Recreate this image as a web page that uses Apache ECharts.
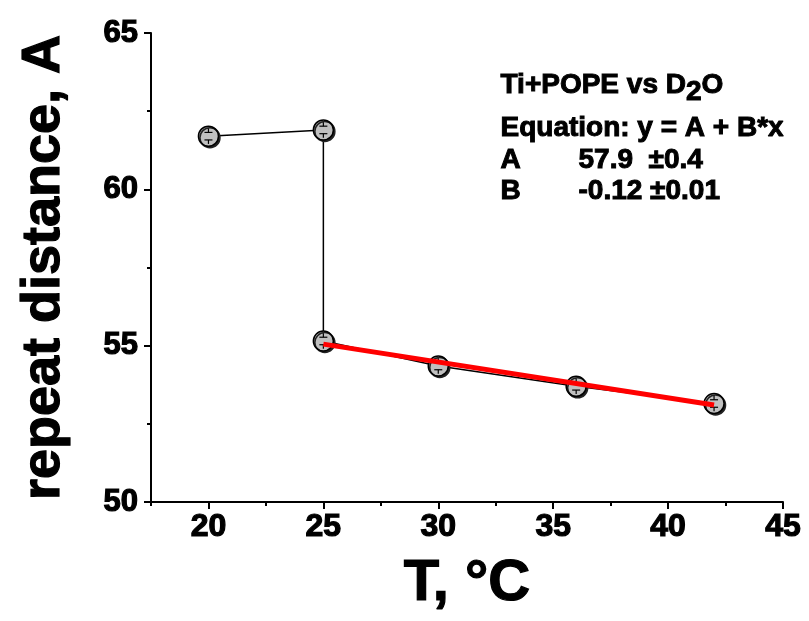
<!DOCTYPE html>
<html>
<head>
<meta charset="utf-8">
<script src="https://cdn.jsdelivr.net/npm/echarts@6/dist/echarts.min.js"></script>
<style>
  html, body { margin: 0; padding: 0; background: #fff; }
  #chart { width: 809px; height: 621px; }
</style>
</head>
<body>
<div id="chart"></div>
<script>
// measured points
const temps = [20, 25, 25, 30, 36, 42];
const distance = [61.7, 61.9, 55.15, 54.35, 53.7, 53.15];
const errors = [0.12, 0.12, 0.12, 0.12, 0.12, 0.12];

// linear fit y = A + B*x, drawn over 25..42
const fitX = [25, 42];
const fitY = [55.05, 53.1];

const xMajor = [20, 25, 30, 35, 40, 45];
const xMinor = [17.5, 22.5, 27.5, 32.5, 37.5, 42.5];

const font = '"Liberation Sans", Arial, sans-serif';

const chart = echarts.init(document.getElementById('chart'));

// bold text made a bit heavier with a thin outline, like the original
function heavy(size, w) {
  return {
    fontFamily: font, fontWeight: 'bold', fontSize: size, color: '#000',
    textBorderColor: '#000', textBorderWidth: w
  };
}

function label(text, x, y) {
  return {
    type: 'text', left: x, top: y,
    style: {
      text: text, fontFamily: font, fontWeight: 'bold', fontSize: 28, fill: '#000',
      stroke: '#000', lineWidth: 1,
      rich: { sub: { fontFamily: font, fontWeight: 'bold', fontSize: 28, fill: '#000', stroke: '#000', lineWidth: 1, padding: [13, 0, 0, 0] } }
    }
  };
}

chart.setOption({
  animation: false,
  grid: { left: 151, right: 26, top: 33, bottom: 119 },
  xAxis: [
    {
      type: 'value',
      min: 17.5,
      max: 45,
      name: 'T, °C',
      nameLocation: 'middle',
      nameGap: 53,
      nameTextStyle: heavy(58, 1.2),
      axisLine: { onZero: false, lineStyle: { color: '#000', width: 2 } },
      axisTick: { show: true, customValues: xMajor, length: 7, lineStyle: { color: '#000', width: 2 } },
      axisLabel: Object.assign({ customValues: xMajor, margin: 9 }, heavy(32, 1.2)),
      splitLine: { show: false }
    },
    {
      type: 'value',
      min: 17.5,
      max: 45,
      position: 'bottom',
      axisLine: { show: false },
      axisTick: { show: true, customValues: xMinor, length: 4, lineStyle: { color: '#000', width: 2 } },
      axisLabel: { show: false },
      splitLine: { show: false }
    }
  ],
  yAxis: {
    type: 'value',
    min: 50,
    max: 65,
    interval: 5,
    name: 'repeat distance, A',
    nameLocation: 'middle',
    nameGap: 80,
    nameTextStyle: heavy(54, 1.2),
    axisLine: { show: true, lineStyle: { color: '#000', width: 2 } },
    axisTick: { show: true, length: 7, lineStyle: { color: '#000', width: 2 } },
    minorTick: { show: true, splitNumber: 2, length: 4, lineStyle: { color: '#000', width: 2 } },
    axisLabel: Object.assign({ margin: 13 }, heavy(31, 1.2)),
    splitLine: { show: false }
  },
  series: [
    {
      type: 'line',
      data: temps.map((t, i) => [t, distance[i]]),
      symbol: 'circle',
      symbolSize: 20,
      itemStyle: {
        color: '#c0c0c0',
        borderColor: '#000',
        borderWidth: 1.5,
        shadowColor: '#222',
        shadowOffsetX: 1.5,
        shadowOffsetY: 1.5,
        shadowBlur: 0
      },
      lineStyle: { color: '#000', width: 1.5 },
      z: 2
    },
    {
      // error bar caps drawn inside the symbols
      type: 'custom',
      data: temps.map((t, i) => [t, distance[i] - errors[i], distance[i] + errors[i]]),
      renderItem: function (params, api) {
        const x = api.value(0);
        const lo = api.coord([x, api.value(1)]);
        const hi = api.coord([x, api.value(2)]);
        const w = 4;
        const style = { stroke: '#000', lineWidth: 1.2 };
        return {
          type: 'group',
          children: [
            { type: 'line', shape: { x1: hi[0], y1: hi[1], x2: hi[0], y2: hi[1] - 4 }, style: style },
            { type: 'line', shape: { x1: lo[0], y1: lo[1], x2: lo[0], y2: lo[1] + 4 }, style: style },
            { type: 'line', shape: { x1: lo[0] - w, y1: lo[1], x2: lo[0] + w, y2: lo[1] }, style: style },
            { type: 'line', shape: { x1: hi[0] - w, y1: hi[1], x2: hi[0] + w, y2: hi[1] }, style: style }
          ]
        };
      },
      z: 3
    },
    {
      type: 'line',
      data: fitX.map((x, i) => [x, fitY[i]]),
      symbol: 'none',
      lineStyle: { color: '#ff0000', width: 5 },
      z: 4
    }
  ],
  graphic: [
    label('Ti+POPE vs D{sub|2}O', 500, 71),
    label('Equation: y = A + B*x', 500, 114),
    label('A', 500, 146),
    label('57.9  ±0.4', 578, 146),
    label('B', 500, 177),
    label('-0.12 ±0.01', 578, 177)
  ]
});
</script>
</body>
</html>
